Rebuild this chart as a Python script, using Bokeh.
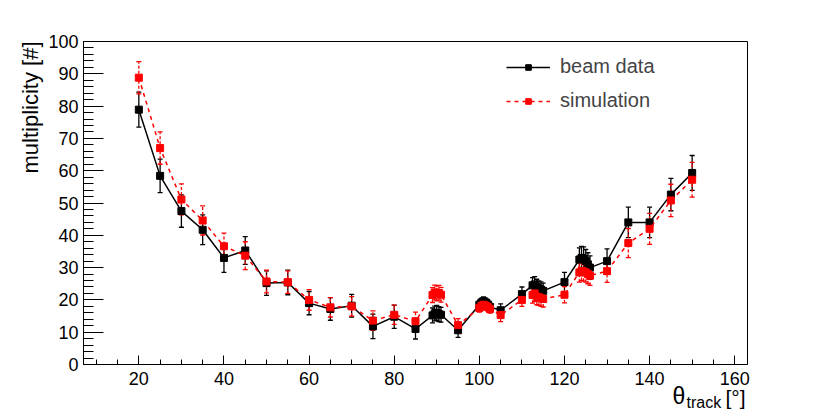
from bokeh.plotting import figure
from bokeh.models import (ColumnDataSource, Range1d, FixedTicker, Whisker, TeeHead,
                          Label, Legend, LegendItem, Title)
from bokeh.embed import file_html
from bokeh.resources import INLINE

# ---------------- data ----------------
theta = [20, 25, 30, 35, 40, 45, 50, 55, 60, 65, 70, 75, 80, 85,
         89.0, 89.5, 90.0, 90.5, 91.0, 95,
         100, 100.5, 101, 101.5, 102, 102.5, 105, 110,
         112.5, 113, 113.5, 114, 114.5, 115, 120,
         123.5, 124, 124.5, 125, 125.5, 126, 130, 135, 140, 145, 150]

beam = [78.9, 58.4, 47.5, 41.7, 33.0, 35.3, 25.2, 25.4, 19.0, 17.2, 18.2, 11.8, 14.8, 11.0,
        15.2, 15.8, 16.0, 15.6, 15.4, 10.6,
        18.5, 19.2, 19.6, 19.2, 18.6, 17.8, 16.8, 21.8,
        24.5, 24.8, 24.0, 23.5, 23.2, 22.8, 25.5,
        32.5, 33.0, 32.8, 32.0, 31.0, 30.0, 32.0, 44.0, 44.0, 52.6, 59.3]
beam_err = [5.4, 5.2, 5.0, 4.6, 4.5, 4.3, 3.8, 3.8, 3.6, 3.5, 3.5, 3.8, 3.6, 3.1,
            2.3, 2.3, 2.3, 2.3, 2.3, 2.2,
            1.3, 1.3, 1.3, 1.3, 1.3, 1.3, 2.0, 2.2,
            2.4, 2.4, 2.4, 2.4, 2.4, 2.4, 3.0,
            3.6, 3.6, 3.6, 3.6, 3.6, 3.6, 3.8, 4.7, 4.7, 5.0, 5.4]

sim = [88.8, 67.0, 51.1, 44.6, 36.6, 33.7, 25.7, 25.5, 20.0, 17.7, 18.0, 13.6, 15.4, 13.4,
       21.5, 22.3, 22.0, 22.2, 21.6, 12.2,
       17.5, 18.2, 18.5, 18.2, 17.8, 17.2, 15.3, 20.0,
       21.5, 22.0, 21.0, 20.8, 20.5, 20.3, 21.6,
       28.5, 29.0, 28.8, 28.5, 28.0, 27.5, 28.9, 37.6, 42.0, 50.8, 57.2]
sim_err = [5.0, 5.0, 4.8, 4.5, 4.1, 4.3, 3.5, 3.5, 3.2, 3.0, 3.0, 3.0, 3.0, 2.8,
           2.3, 2.3, 2.3, 2.3, 2.3, 2.0,
           1.3, 1.3, 1.3, 1.3, 1.3, 1.3, 2.0, 2.0,
           2.5, 2.5, 2.5, 2.5, 2.5, 2.5, 2.5,
           3.0, 3.0, 3.0, 3.0, 3.0, 3.0, 3.5, 4.5, 4.8, 5.0, 5.4]

x_major = [20, 40, 60, 80, 100, 120, 140, 160]
x_minor = list(range(10, 165, 5))
y_major = list(range(0, 101, 10))
y_minor = list(range(0, 101, 2))

FONT = "Liberation Sans"

beam_src = ColumnDataSource(dict(x=theta, y=beam,
                                 lo=[v - e for v, e in zip(beam, beam_err)],
                                 up=[v + e for v, e in zip(beam, beam_err)]))
sim_src = ColumnDataSource(dict(x=theta, y=sim,
                                lo=[v - e for v, e in zip(sim, sim_err)],
                                up=[v + e for v, e in zip(sim, sim_err)]))

p = figure(frame_width=664, frame_height=323,
           x_range=Range1d(7, 163), y_range=Range1d(0, 100),
           output_backend="svg", toolbar_location=None,
           min_border_left=83, min_border_right=80,
           min_border_top=41, min_border_bottom=48,
           background_fill_color="white", border_fill_color="white")

p.grid.visible = False
p.outline_line_color = "black"
p.outline_line_width = 1

for ax in (p.xaxis[0], p.yaxis[0]):
    ax.axis_line_color = "black"
    ax.major_tick_line_color = "black"
    ax.minor_tick_line_color = "black"
    ax.major_tick_out = 0
    ax.minor_tick_out = 0
    ax.major_label_text_font = FONT
    ax.major_label_text_font_size = "18px"
    ax.major_label_text_color = "black"

p.xaxis.ticker = FixedTicker(ticks=x_major, minor_ticks=x_minor)
p.yaxis.ticker = FixedTicker(ticks=y_major, minor_ticks=y_minor)
p.xaxis.major_tick_in = 9
p.xaxis.minor_tick_in = 5
p.yaxis.major_tick_in = 20
p.yaxis.minor_tick_in = 10
p.xaxis.major_label_standoff = 7
p.yaxis.major_label_standoff = 5

# error bars
p.add_layout(Whisker(source=beam_src, base="x", lower="lo", upper="up",
                     line_color="black", line_width=1.3,
                     lower_head=TeeHead(size=5, line_color="black", line_width=1.3),
                     upper_head=TeeHead(size=5, line_color="black", line_width=1.3)))
p.add_layout(Whisker(source=sim_src, base="x", lower="lo", upper="up",
                     line_color="red", line_width=1.3, line_dash="3 2",
                     lower_head=TeeHead(size=5, line_color="red", line_width=1.3),
                     upper_head=TeeHead(size=5, line_color="red", line_width=1.3)))

bl = p.line("x", "y", source=beam_src, line_color="black", line_width=1.5)
bs = p.scatter("x", "y", source=beam_src, marker="square", size=7,
               fill_color="black", line_color="black")
rl = p.line("x", "y", source=sim_src, line_color="red", line_width=1.5, line_dash="4 4")
rs = p.scatter("x", "y", source=sim_src, marker="square", size=7,
               fill_color="red", line_color="red")

legend = Legend(items=[LegendItem(label="beam data", renderers=[bl, bs]),
                       LegendItem(label="simulation", renderers=[rl, rs])],
                location=(423, 252), border_line_color=None,
                background_fill_alpha=0, label_text_font=FONT,
                label_text_font_size="20px", glyph_width=44, glyph_height=14,
                label_height=20, spacing=11, label_standoff=10, padding=10, margin=0)
p.add_layout(legend)

# y-axis title (ROOT style, aligned to the top end of the axis)
p.add_layout(Title(text="multiplicity [#]", align="right",
                   text_font=FONT, text_font_size="22px", text_font_style="normal",
                   text_color="black", standoff=5), "left")

# x-axis title with subscript, as labels in the right side panel
p.add_layout(Label(x=-75, y=-31, x_units="screen", y_units="screen",
                   text="θ", text_align="left", text_baseline="alphabetic",
                   text_font=FONT, text_font_size="23px", text_color="black"), "right")
p.add_layout(Label(x=-74, y=-38, x_units="screen", y_units="screen",
                   text="track", text_align="left", text_baseline="alphabetic",
                   text_font=FONT, text_font_size="16px", text_color="black"), "right")
p.add_layout(Label(x=-50, y=-33, x_units="screen", y_units="screen",
                   text="[°]", text_align="right", text_baseline="alphabetic",
                   text_font=FONT, text_font_size="21px", text_color="black"), "right")

open("out.html", "w").write(file_html(p, INLINE))
